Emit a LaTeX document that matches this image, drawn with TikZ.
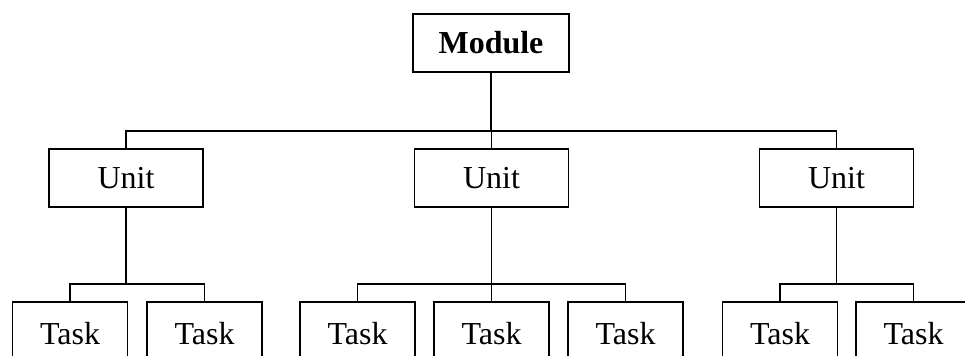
\documentclass[tikz,border=0pt]{standalone}
\usepackage{fontspec}
\setmainfont{Liberation Serif}
\tikzset{
  box/.style={draw, line width=0.9pt, inner sep=0pt, font=\fontsize{16}{19}\selectfont},
  unitbox/.style={box, minimum width=77pt, minimum height=29pt},
  taskbox/.style={box, minimum width=57.5pt, minimum height=32pt},
  link/.style={line width=0.9pt},
}
\begin{document}
\begin{tikzpicture}[x=0.5pt,y=-0.5pt]
  \clip (0,0) rectangle (965,355);

  % top level
  \node[unitbox, minimum width=78pt, font=\bfseries\fontsize{16}{19}\selectfont] (module) at (491,43) {Module};

  % units
  \node[unitbox] (unitA) at (126,178) {Unit};
  \node[unitbox] (unitB) at (491.5,178) {Unit};
  \node[unitbox] (unitC) at (836.5,178) {Unit};

  % tasks (cut off at the bottom)
  \node[taskbox] (taskA) at (70,334) {Task};
  \node[taskbox] (taskB) at (204.5,334) {Task};
  \node[taskbox] (taskC) at (357.5,334) {Task};
  \node[taskbox] (taskD) at (491.5,334) {Task};
  \node[taskbox] (taskE) at (625.5,334) {Task};
  \node[taskbox] (taskF) at (780,334) {Task};
  \node[taskbox] (taskG) at (913.5,334) {Task};

  \foreach \c in {unitA,unitB,unitC}
    \draw[link] (module.south) -- ++(0,58) -| (\c.north);
  \foreach \p/\c in {unitA/taskA,unitA/taskB,unitB/taskC,unitB/taskD,unitB/taskE,unitC/taskF,unitC/taskG}
    \draw[link] (\p.south) -- ++(0,76) -| (\c.north);
\end{tikzpicture}
\end{document}
